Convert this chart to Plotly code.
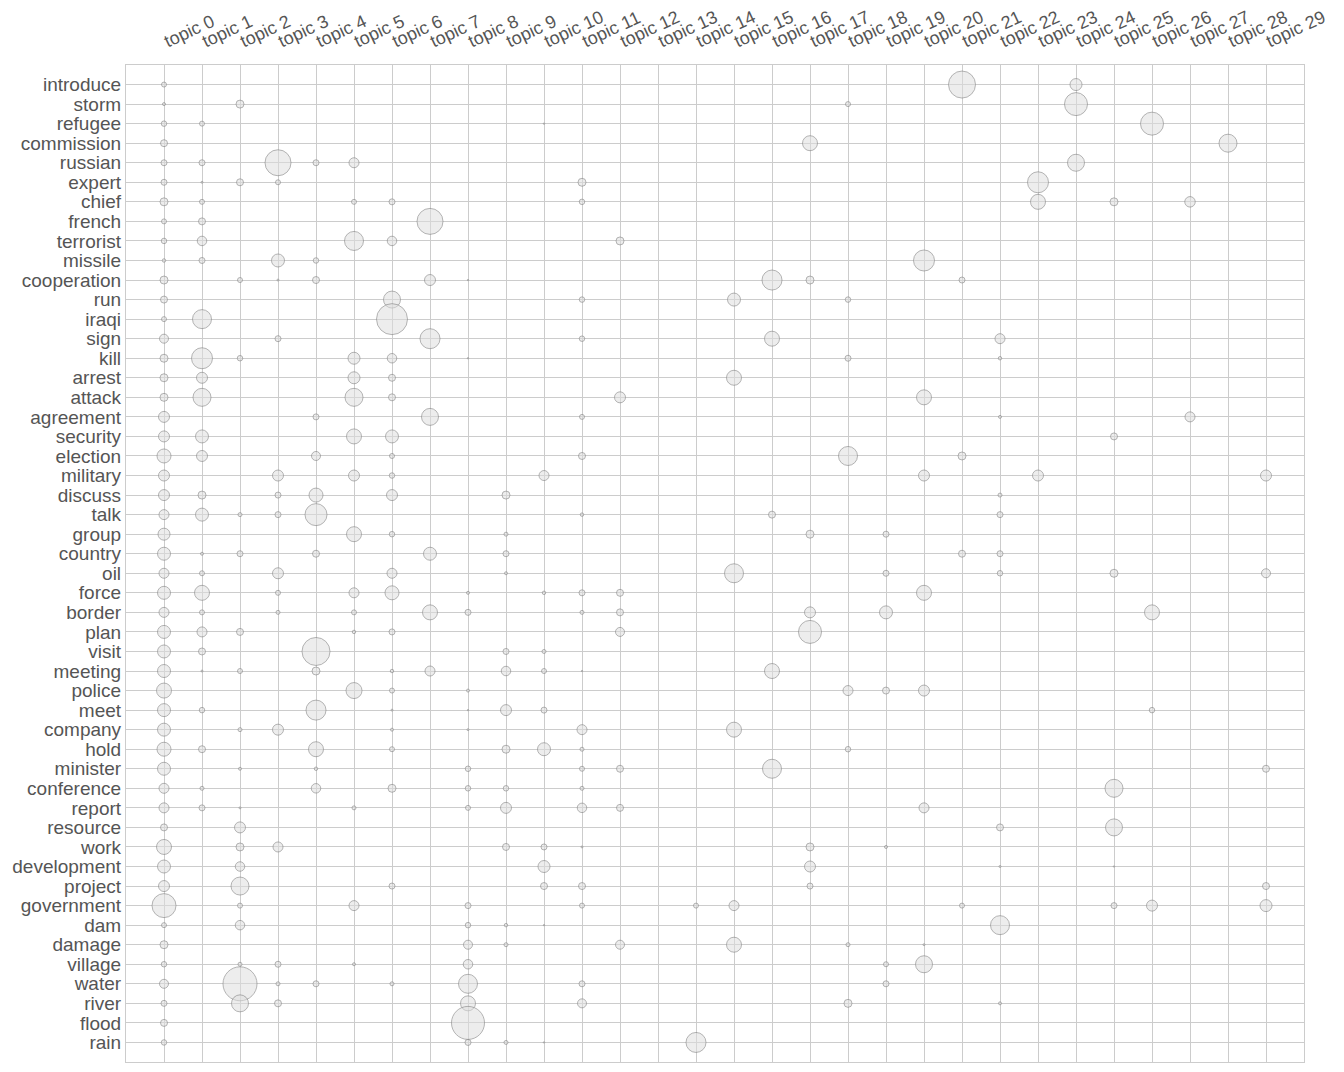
import numpy as np
import plotly.graph_objects as go

topics = [f"topic {i}" for i in range(30)]

words = ["introduce", "storm", "refugee", "commission", "russian", "expert", "chief",
         "french", "terrorist", "missile", "cooperation", "run", "iraqi", "sign", "kill",
         "arrest", "attack", "agreement", "security", "election", "military", "discuss",
         "talk", "group", "country", "oil", "force", "border", "plan", "visit", "meeting",
         "police", "meet", "company", "hold", "minister", "conference", "report",
         "resource", "work", "development", "project", "government", "dam", "damage",
         "village", "water", "river", "flood", "rain"]

# word -> {topic index: weight}
weights = {
    "introduce": {0: 0.25, 21: 7.29, 24: 1.44},
    "storm": {0: 0.09, 2: 0.64, 18: 0.25, 24: 5.29},
    "refugee": {0: 0.30, 1: 0.25, 10: 0.02, 26: 5.29},
    "commission": {0: 0.49, 17: 2.25, 28: 3.24},
    "russian": {0: 0.36, 1: 0.36, 3: 6.76, 4: 0.36, 5: 1.0, 24: 2.89},
    "expert": {0: 0.36, 1: 0.04, 2: 0.49, 3: 0.25, 11: 0.64, 23: 4.41},
    "chief": {0: 0.64, 1: 0.25, 5: 0.25, 6: 0.36, 11: 0.30, 23: 2.25, 25: 0.64, 27: 1.1},
    "french": {0: 0.25, 1: 0.49, 7: 6.76},
    "terrorist": {0: 0.30, 1: 0.90, 5: 3.61, 6: 0.90, 12: 0.64},
    "missile": {0: 0.12, 1: 0.36, 3: 1.69, 4: 0.30, 20: 4.41},
    "cooperation": {0: 0.64, 2: 0.25, 3: 0.04, 4: 0.49, 7: 1.21, 8: 0.02, 16: 4.0, 17: 0.64, 21: 0.36},
    "run": {0: 0.49, 6: 2.89, 11: 0.30, 15: 1.69, 18: 0.30},
    "iraqi": {0: 0.25, 1: 3.61, 6: 9.61},
    "sign": {0: 0.81, 3: 0.36, 7: 4.0, 11: 0.30, 16: 2.25, 22: 1.0},
    "kill": {0: 0.64, 1: 4.41, 2: 0.30, 5: 1.44, 6: 0.90, 8: 0.02, 18: 0.36, 22: 0.12},
    "arrest": {0: 0.64, 1: 1.21, 5: 1.44, 6: 0.49, 15: 2.25},
    "attack": {0: 0.64, 1: 3.24, 5: 3.24, 6: 0.49, 12: 1.21, 20: 2.25},
    "agreement": {0: 1.21, 4: 0.36, 7: 2.89, 11: 0.25, 22: 0.09, 27: 1.0},
    "security": {0: 1.21, 1: 1.69, 5: 2.25, 6: 1.69, 25: 0.49},
    "election": {0: 1.96, 1: 1.21, 4: 0.81, 6: 0.25, 11: 0.49, 18: 3.61, 21: 0.64},
    "military": {0: 1.21, 3: 1.21, 5: 1.21, 6: 0.30, 10: 1.0, 20: 1.21, 23: 1.21, 29: 1.21},
    "discuss": {0: 1.21, 1: 0.64, 3: 0.36, 4: 1.96, 6: 1.21, 9: 0.64, 22: 0.16},
    "talk": {0: 1.0, 1: 1.69, 2: 0.16, 3: 0.36, 4: 4.84, 11: 0.12, 16: 0.49, 22: 0.36},
    "group": {0: 1.44, 5: 2.25, 6: 0.30, 9: 0.16, 17: 0.64, 19: 0.36},
    "country": {0: 1.69, 1: 0.09, 2: 0.36, 4: 0.49, 7: 1.69, 9: 0.36, 21: 0.49, 22: 0.36},
    "oil": {0: 1.0, 1: 0.25, 3: 1.21, 6: 1.0, 9: 0.09, 15: 3.61, 19: 0.36, 22: 0.30, 25: 0.64, 29: 0.81},
    "force": {0: 1.69, 1: 2.25, 3: 0.25, 5: 1.0, 6: 1.96, 8: 0.09, 10: 0.12, 11: 0.36, 12: 0.49, 20: 2.25},
    "border": {0: 1.0, 1: 0.25, 3: 0.16, 5: 0.25, 7: 2.25, 8: 0.36, 11: 0.16, 12: 0.49, 17: 1.21, 19: 1.69, 26: 2.25},
    "plan": {0: 1.69, 1: 1.0, 2: 0.49, 5: 0.12, 6: 0.36, 12: 0.81, 17: 5.29},
    "visit": {0: 1.69, 1: 0.49, 4: 7.84, 9: 0.36, 10: 0.16},
    "meeting": {0: 1.69, 1: 0.04, 2: 0.25, 4: 0.64, 6: 0.12, 7: 1.0, 9: 0.90, 10: 0.25, 11: 0.02, 16: 2.25},
    "police": {0: 2.25, 5: 2.56, 6: 0.25, 8: 0.09, 18: 1.0, 19: 0.49, 20: 1.21},
    "meet": {0: 1.69, 1: 0.30, 4: 4.0, 6: 0.04, 8: 0.02, 9: 1.21, 10: 0.36, 26: 0.30},
    "company": {0: 1.69, 2: 0.16, 3: 1.21, 6: 0.09, 8: 0.04, 11: 1.0, 15: 2.25},
    "hold": {0: 1.96, 1: 0.49, 4: 2.25, 6: 0.25, 9: 0.64, 10: 1.69, 11: 0.16, 18: 0.30},
    "minister": {0: 1.69, 2: 0.09, 4: 0.12, 8: 0.30, 11: 0.25, 12: 0.49, 16: 3.61, 29: 0.49},
    "conference": {0: 1.0, 1: 0.16, 4: 0.90, 6: 0.64, 8: 0.30, 9: 0.30, 11: 0.16, 25: 3.24},
    "report": {0: 1.0, 1: 0.36, 2: 0.04, 5: 0.16, 8: 0.25, 9: 1.21, 11: 0.90, 12: 0.49, 20: 1.0},
    "resource": {0: 0.49, 2: 1.21, 22: 0.49, 25: 2.89},
    "work": {0: 2.25, 2: 0.64, 3: 1.0, 9: 0.49, 10: 0.36, 11: 0.04, 17: 0.64, 19: 0.09},
    "development": {0: 1.69, 2: 0.90, 10: 1.44, 17: 1.21, 22: 0.04, 25: 0.02},
    "project": {0: 1.21, 2: 3.24, 6: 0.36, 10: 0.49, 11: 0.49, 17: 0.36, 29: 0.49},
    "government": {0: 5.76, 2: 0.25, 5: 1.0, 8: 0.36, 11: 0.25, 14: 0.25, 15: 1.0, 21: 0.25, 25: 0.36, 26: 1.21, 29: 1.44},
    "dam": {0: 0.25, 2: 0.90, 8: 0.30, 9: 0.12, 10: 0.02, 22: 3.61},
    "damage": {0: 0.64, 8: 0.81, 9: 0.16, 12: 0.81, 15: 2.25, 18: 0.16, 20: 0.04},
    "village": {0: 0.30, 2: 0.16, 3: 0.36, 5: 0.09, 8: 0.90, 19: 0.25, 20: 2.89},
    "water": {0: 0.81, 2: 11.56, 3: 0.16, 4: 0.36, 6: 0.16, 8: 3.61, 11: 0.36, 19: 0.36},
    "river": {0: 0.36, 2: 2.89, 3: 0.49, 8: 2.25, 11: 0.81, 18: 0.64, 22: 0.09},
    "flood": {0: 0.49, 8: 10.9},
    "rain": {0: 0.30, 8: 0.36, 9: 0.16, 10: 0.02, 14: 4.0},
}

xs, ys, ws = [], [], []
for w in words:
    for t, v in weights[w].items():
        xs.append(topics[t])
        ys.append(w)
        ws.append(v)
ws = np.array(ws)

fig = go.Figure(go.Scatter(
    x=xs, y=ys, mode="markers",
    marker=dict(size=10 * np.sqrt(ws), sizemode="diameter",
                color="rgba(222,222,222,0.75)",
                line=dict(color="rgba(130,130,130,0.85)", width=1)),
    hovertemplate="%{y} / %{x}<extra></extra>",
))

gray = "#cccccc"
y_font = dict(family="Liberation Sans, Arial, sans-serif", size=19, color="#555555")
x_font = dict(family="Liberation Sans, Arial, sans-serif", size=18, color="#555555")
fig.update_layout(
    width=1344, height=1072,
    margin=dict(l=126, r=40, t=65, b=10),
    paper_bgcolor="white", plot_bgcolor="white",
    font=y_font,
    showlegend=False,
    xaxis=dict(type="category", categoryorder="array", categoryarray=topics,
               side="top", tickangle=-25, range=[-1, 30],
               tickmode="linear", tick0=0, dtick=1, automargin=False,
               showgrid=True, gridcolor=gray, gridwidth=1.2,
               showline=True, linecolor=gray, mirror=True, linewidth=1.2,
               ticks="", zeroline=False, tickfont=x_font,
               ticklabelstandoff=8),
    yaxis=dict(type="category", categoryorder="array", categoryarray=words,
               range=[50, -1],
               tickmode="linear", tick0=0, dtick=1, automargin=False,
               showgrid=True, gridcolor=gray, gridwidth=1.2,
               showline=True, linecolor=gray, mirror=True, linewidth=1.2,
               ticks="", zeroline=False, tickfont=y_font),
)

fig.write_html("out.html")
